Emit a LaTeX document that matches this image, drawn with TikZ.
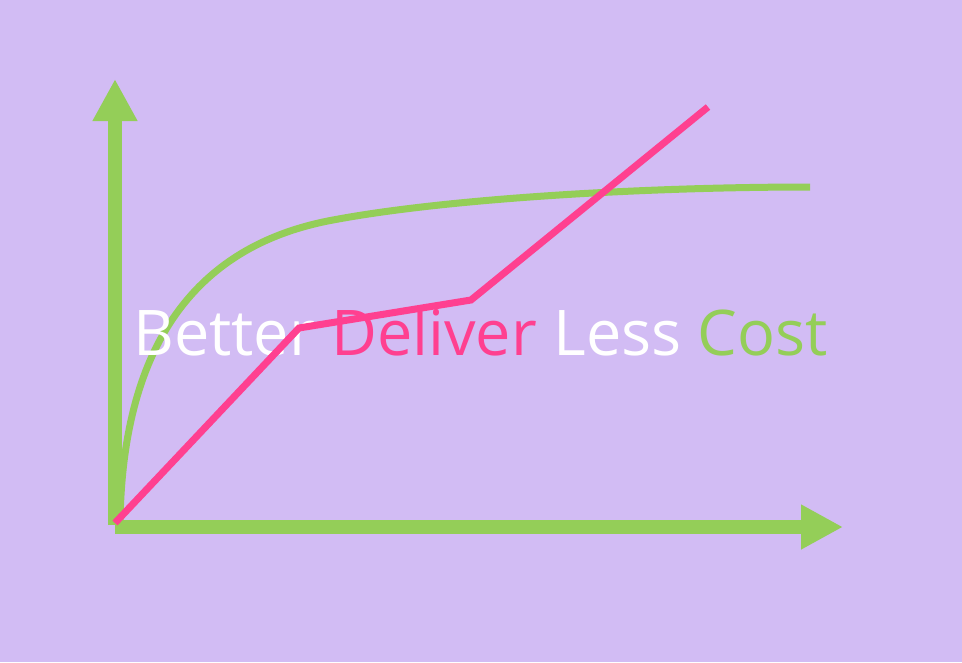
\documentclass[tikz,border=0pt]{standalone}
\usepackage{fontspec}
\setmainfont{Open Sans}
\usetikzlibrary{arrows.meta}
\definecolor{lavender}{RGB}{210,188,244}
\definecolor{leafgreen}{RGB}{148,206,88}
\definecolor{hotpink}{RGB}{255,64,144}
\tikzstyle{axis}=[draw=leafgreen,line width=14pt,-{Triangle[length=42pt,width=42pt]}]
\tikzstyle{gain}=[draw=leafgreen,line width=7pt]
\tikzstyle{cost}=[draw=hotpink,line width=7pt,line join=miter]

\begin{document}
\begin{tikzpicture}[x=1pt,y=-1pt]
    \fill[lavender] (0,0) rectangle (962,662);
    \useasboundingbox (0,0) rectangle (962,662);
    \coordinate (o) at (115,525);
    \coordinate (oy) at (115,527);
    \coordinate (ytop) at (115,79);
    \coordinate (xend) at (843,527);
    \coordinate (g1) at (120,523);
    \coordinate (g2) at (333,220);
    \coordinate (g3) at (810,187);
    \coordinate (p1) at (115,523);
    \coordinate (p2) at (299,328);
    \coordinate (p3) at (471,300);
    \coordinate (p4) at (708,107);

    \draw[axis] (o) -- (ytop);
    \draw[axis] (oy) -- (xend);

    \draw[gain] (g1) .. controls (122,380) and (170,250) .. (g2)
                     .. controls (450,198) and (650,187) .. (g3);

    \node[anchor=base west,inner sep=0pt,font=\fontsize{63}{72}\selectfont] (slogan) at (133,355)
      {\textcolor{white}{Better} \textcolor{hotpink}{Deliver} \textcolor{white}{Less} \textcolor{leafgreen}{Cost}};

    \draw[cost] (p1) -- (p2) -- (p3) -- (p4);
\end{tikzpicture}
\end{document}
